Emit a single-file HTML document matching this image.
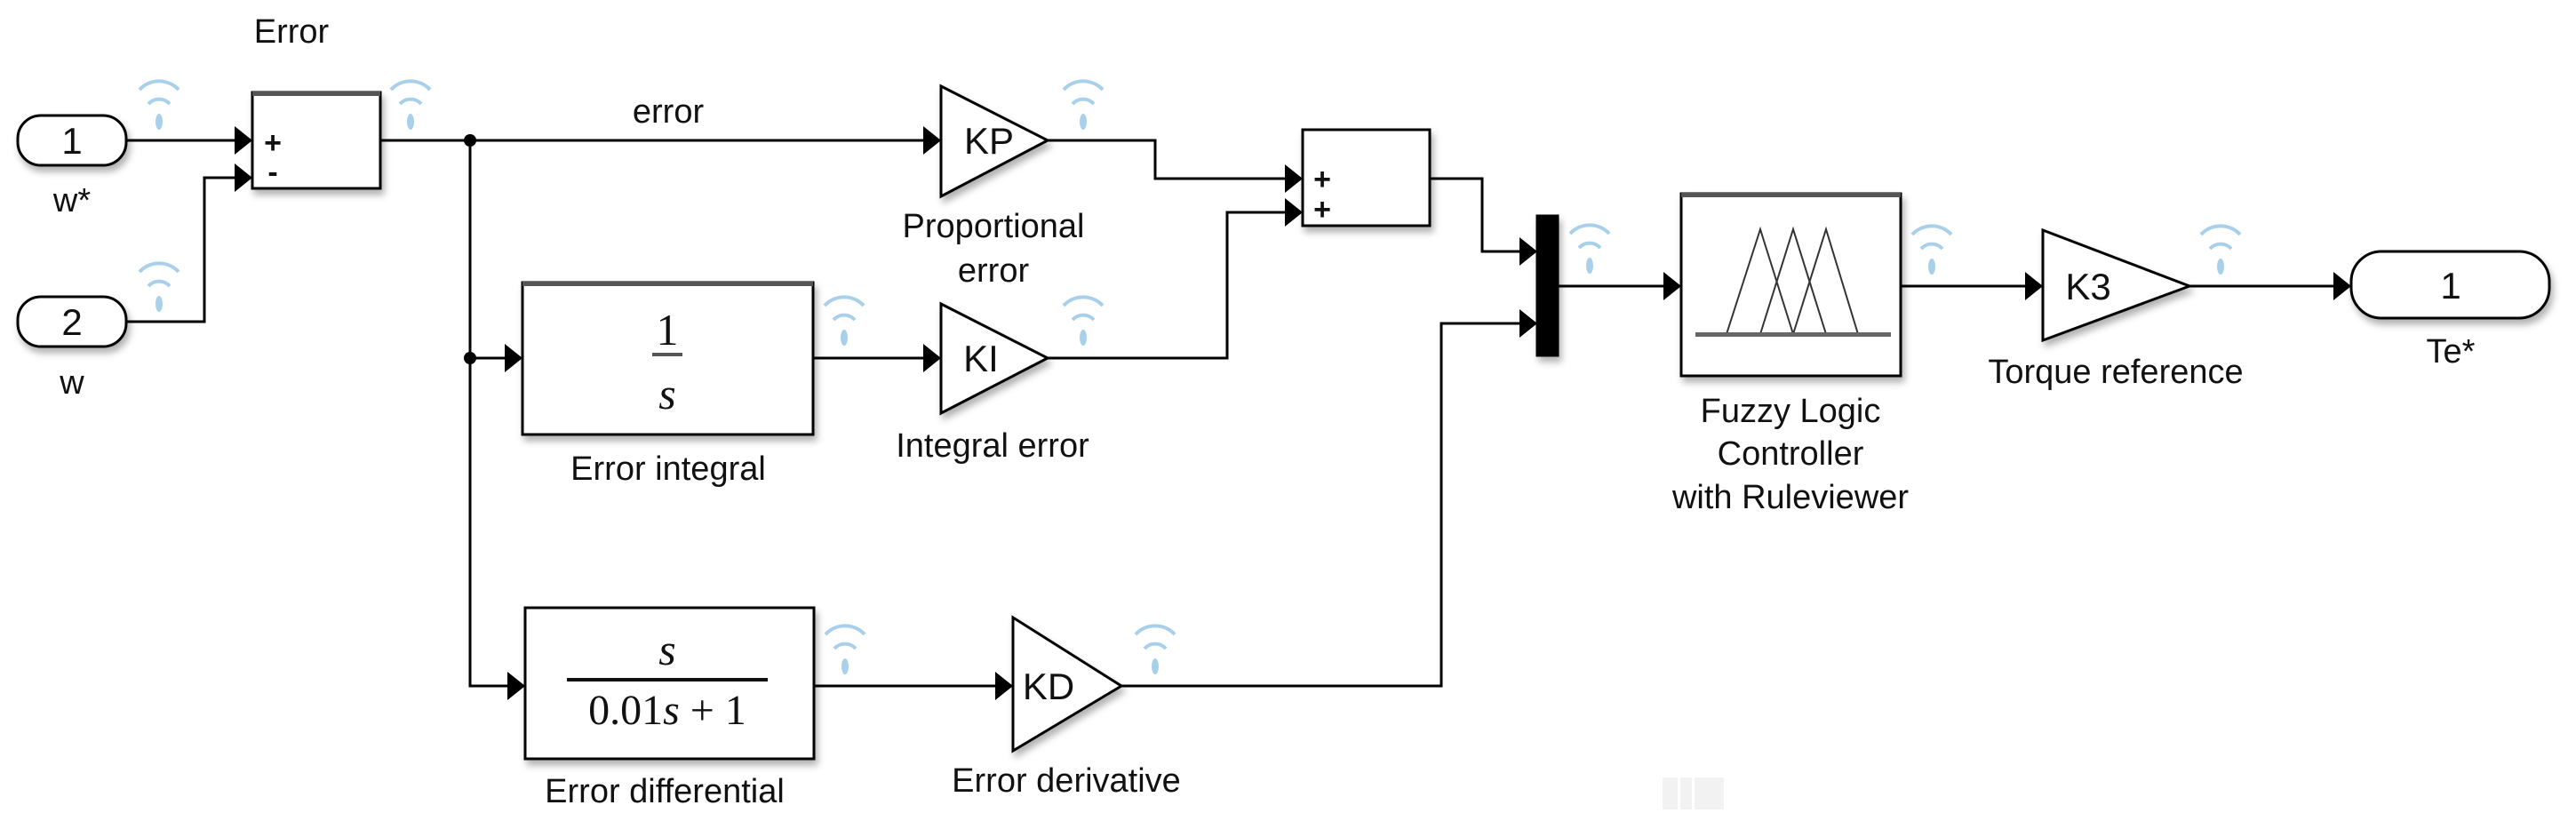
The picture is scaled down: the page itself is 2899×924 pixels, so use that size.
<!DOCTYPE html>
<html><head><meta charset="utf-8"><style>
html,body{margin:0;padding:0;background:#fff;}
svg{display:block;}
text{font-family:"Liberation Sans",sans-serif;fill:#111;}
.m{font-family:"Liberation Serif",serif;}
</style></head><body>
<svg width="2899" height="924" viewBox="0 0 2899 924" xmlns="http://www.w3.org/2000/svg">
<defs>
<filter id="sh" x="-10%" y="-10%" width="130%" height="140%"><feDropShadow dx="3" dy="6" stdDeviation="4" flood-color="#000" flood-opacity="0.3"/></filter>
<g id="wf" fill="none" stroke="#a9d0ea" stroke-width="4">
<path d="M-22,-36 A30,30 0 0 1 22,-36"/>
<path d="M-12,-20 A16,16 0 0 1 12,-20"/>
<ellipse cx="0" cy="0" rx="4" ry="9" fill="#a9d0ea" stroke="none"/>
</g>
</defs>

<rect x="1871" y="875" width="17" height="36" fill="#f2f2f2"/>
<rect x="1891" y="875" width="13" height="36" fill="#f2f2f2"/>
<rect x="1907" y="875" width="33" height="36" fill="#f2f2f2"/>

<g stroke="#000" stroke-width="3" fill="none">
<polyline points="142,158 266,158"/>
<polyline points="142,362 230,362 230,200 266,200"/>
<polyline points="429,158 1042,158"/>
<polyline points="529,158 529,772 574,772"/>
<polyline points="529,403 571,403"/>
<polyline points="913,403 1042,403"/>
<polyline points="916,772 1123,772"/>
<polyline points="1179,158 1300,158 1300,201 1449,201"/>
<polyline points="1179,403 1381,403 1381,239 1449,239"/>
<polyline points="1609,201 1668,201 1668,283 1713,283"/>
<polyline points="1262,772 1622,772 1622,364 1713,364"/>
<polyline points="1753,322 1875,322"/>
<polyline points="2139,322 2282,322"/>
<polyline points="2464,322 2629,322"/>
</g>
<circle cx="529" cy="158" r="7" fill="#000"/>
<circle cx="529" cy="403" r="7" fill="#000"/>

<g fill="#000">
<path d="M264,142 L284,158 L264,174Z"/>
<path d="M264,184 L284,200 L264,216Z"/>
<path d="M568,387 L588,403 L568,419Z"/>
<path d="M571,756 L591,772 L571,788Z"/>
<path d="M1039,142 L1059,158 L1039,174Z"/>
<path d="M1039,387 L1059,403 L1039,419Z"/>
<path d="M1120,756 L1140,772 L1120,788Z"/>
<path d="M1446,185 L1466,201 L1446,217Z"/>
<path d="M1446,223 L1466,239 L1446,255Z"/>
<path d="M1710,267 L1730,283 L1710,299Z"/>
<path d="M1710,348 L1730,364 L1710,380Z"/>
<path d="M1872,306 L1892,322 L1872,338Z"/>
<path d="M2279,306 L2299,322 L2279,338Z"/>
<path d="M2626,306 L2646,322 L2626,338Z"/>
</g>

<g stroke="#000" stroke-width="3" fill="#fff" filter="url(#sh)">
<rect x="20" y="130" width="122" height="56" rx="26"/>
<rect x="20" y="334" width="122" height="56" rx="26"/>
<rect x="284" y="104" width="144" height="108"/>
<rect x="588" y="318" width="327" height="171"/>
<rect x="591" y="684" width="325" height="170"/>
<path d="M1059,97 L1179,158 L1059,221Z"/>
<path d="M1059,342 L1179,403 L1059,465Z"/>
<path d="M1140,695 L1262,772 L1140,845Z"/>
<rect x="1466" y="146" width="143" height="108"/>
<rect x="1730" y="243" width="23" height="157" fill="#000"/>
<rect x="1892" y="218" width="247" height="205"/>
<path d="M2299,259 L2464,322 L2299,383Z"/>
<rect x="2646" y="283" width="223" height="75" rx="34"/>
</g>
<g fill="#555">
<rect x="284" y="103" width="144" height="5"/>
<rect x="588" y="317" width="327" height="5"/>
<rect x="1892" y="217" width="247" height="5"/>
</g>

<g stroke="#333" stroke-width="2" fill="none">
<polyline points="1943,376 1981,258 2018,376"/>
<polyline points="1981,376 2018,258 2055,376"/>
<polyline points="2018,376 2055,258 2091,376"/>
</g>
<rect x="1908" y="374" width="220" height="5" fill="#666"/>

<rect x="734" y="397" width="34" height="4" fill="#555"/>
<rect x="638" y="763" width="226" height="4" fill="#111"/>

<use href="#wf" x="179" y="137"/>
<use href="#wf" x="462" y="137"/>
<use href="#wf" x="179" y="342"/>
<use href="#wf" x="950" y="380"/>
<use href="#wf" x="1219" y="137"/>
<use href="#wf" x="1219" y="380"/>
<use href="#wf" x="1789" y="299"/>
<use href="#wf" x="2174" y="300"/>
<use href="#wf" x="2499" y="300"/>
<use href="#wf" x="951" y="750"/>
<use href="#wf" x="1300" y="750"/>

<g font-size="42" text-anchor="middle">
<text x="81" y="173">1</text>
<text x="81" y="377">2</text>
<text x="2758" y="336">1</text>
<text x="1113" y="173">KP</text>
<text x="1104" y="418">KI</text>
<text x="1180" y="787">KD</text>
<text x="2350" y="337">K3</text>
</g>
<g font-size="34" text-anchor="middle" font-weight="bold">
<text x="307" y="172">+</text>
<text x="307" y="205">-</text>
<text x="1488" y="213">+</text>
<text x="1488" y="247">+</text>
</g>
<g class="m" text-anchor="middle">
<text class="m" x="751" y="388" font-size="50">1</text>
<text class="m" x="751" y="460" font-size="50" font-style="italic">s</text>
<text class="m" x="751" y="748" font-size="50" font-style="italic">s</text>
<text class="m" x="751" y="815" font-size="48">0.01<tspan font-style="italic">s</tspan> + 1</text>
</g>

<g font-size="38" text-anchor="middle">
<text x="328" y="48">Error</text>
<text x="752" y="138">error</text>
<text x="81" y="238">w*</text>
<text x="81" y="443">w</text>
<text x="1118" y="267">Proportional</text>
<text x="1118" y="317">error</text>
<text x="752" y="540">Error integral</text>
<text x="1117" y="514">Integral error</text>
<text x="748" y="903">Error differential</text>
<text x="1200" y="891">Error derivative</text>
<text x="2015" y="475">Fuzzy Logic</text>
<text x="2015" y="523">Controller</text>
<text x="2015" y="572">with Ruleviewer</text>
<text x="2381" y="431">Torque reference</text>
<text x="2758" y="408">Te*</text>
</g>
</svg>
</body></html>
